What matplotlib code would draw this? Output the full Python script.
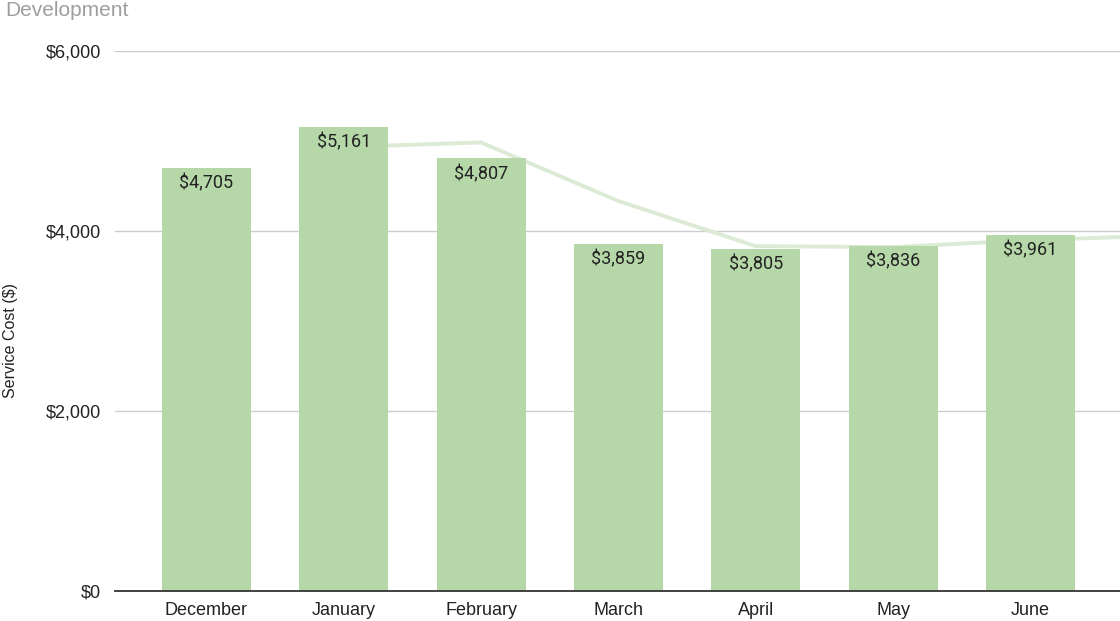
import numpy as np
import matplotlib
matplotlib.use("Agg")
import matplotlib.pyplot as plt
from matplotlib.ticker import FuncFormatter

# monthly service cost, the last month is mostly off the right edge
months = ["December", "January", "February", "March", "April", "May", "June", "July"]
cost = [4705, 5161, 4807, 3859, 3805, 3836, 3961, 3940]
# light trend line drawn behind the bars
trend = [np.nan, 4933, 4984, 4333, 3832, 3821, 3899, 3950]
yticks = [0, 2000, 4000, 6000]

bar_color = "#b6d7a8"
line_color = "#dcebd5"

fig = plt.figure(figsize=(11.2, 6.21), dpi=100)
ax = fig.add_axes([115 / 1120, 30 / 621, 1.0 - 115 / 1120, 540 / 621])

x = np.arange(len(months))
ax.plot(x, trend, color=line_color, lw=2.8, zorder=1, solid_joinstyle="miter")
bars = ax.bar(x, cost, width=0.648, color=bar_color, zorder=2)

for xi, v in zip(x, cost):
    ax.annotate("${:,}".format(v), (xi, v), xytext=(0, -16), textcoords="offset pixels",
                ha="center", va="center", fontsize=13, family="Roboto", color="#222222",
                zorder=3)

ax.set_yticks(yticks)
ax.yaxis.set_major_formatter(FuncFormatter(lambda v, p: "${:,.0f}".format(v)))
ax.set_xticks(x)
ax.set_xticklabels(months)
# the chart is cropped on the right, so fix the view after the ticks
ax.set_xlim(-0.666, 6.653)
ax.set_ylim(0, 6000)

for s in ["top", "right", "left"]:
    ax.spines[s].set_visible(False)
ax.spines["bottom"].set_color("#333333")
ax.spines["bottom"].set_linewidth(1.3)
ax.spines["bottom"].set_zorder(4)

ax.grid(axis="y", color="#cccccc", lw=1, zorder=0)
ax.set_axisbelow(True)
ax.tick_params(axis="both", length=0, labelsize=13, labelcolor="#222222")
ax.tick_params(axis="y", pad=10)
ax.tick_params(axis="x", pad=8)
for lbl in ax.get_xticklabels() + ax.get_yticklabels():
    lbl.set_family("Liberation Sans")

fig.text(11 / 1120, 0.5 + (621 / 2 - 341) / 621, "Service Cost ($)", rotation=90,
         ha="center", va="center", fontsize=11.5, family="Liberation Sans", color="#222222")
fig.text(5 / 1120, 1 - 15.5 / 621, "Development", ha="left", va="baseline",
         fontsize=15, family="Liberation Sans", color="#9e9e9e")

fig.savefig("out.png", dpi=100)
